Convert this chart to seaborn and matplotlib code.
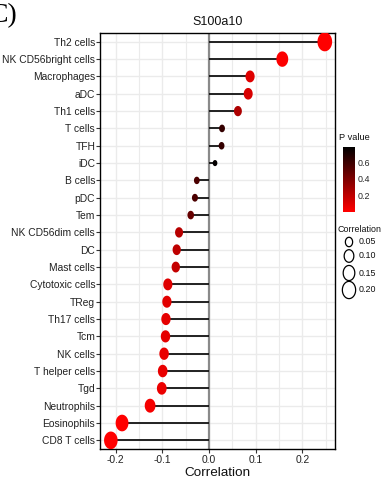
import numpy as np
import pandas as pd
import matplotlib
matplotlib.use("Agg")
import matplotlib.pyplot as plt
import seaborn as sns
from matplotlib.colors import LinearSegmentedColormap, Normalize
from matplotlib.colorbar import ColorbarBase
from matplotlib.path import Path
from matplotlib.ticker import MultipleLocator

# Immune cell types ordered from top to bottom
cells = ["Th2 cells", "NK CD56bright cells", "Macrophages", "aDC", "Th1 cells",
         "T cells", "TFH", "iDC", "B cells", "pDC", "Tem", "NK CD56dim cells",
         "DC", "Mast cells", "Cytotoxic cells", "TReg", "Th17 cells", "Tcm",
         "NK cells", "T helper cells", "Tgd", "Neutrophils", "Eosinophils",
         "CD8 T cells"]
correlation = [0.248, 0.157, 0.088, 0.084, 0.062, 0.028, 0.027, 0.013,
               -0.026, -0.030, -0.039, -0.064, -0.069, -0.071, -0.088, -0.090,
               -0.092, -0.093, -0.096, -0.099, -0.101, -0.126, -0.186, -0.210]
p_value = [0.0005, 0.01, 0.10, 0.12, 0.25, 0.62, 0.62, 0.77,
           0.55, 0.55, 0.47, 0.22, 0.20, 0.18, 0.10, 0.09,
           0.08, 0.08, 0.07, 0.07, 0.06, 0.03, 0.002, 0.0005]
size_breaks = [0.05, 0.10, 0.15, 0.20]
p_ticks = [0.2, 0.4, 0.6]

df = pd.DataFrame({"cell": cells, "cor": correlation, "p": p_value})
df["abs_cor"] = df["cor"].abs()

sns.set_theme(style="white")
plt.rcParams["font.family"] = ["Liberation Sans", "DejaVu Sans"]

cmap = LinearSegmentedColormap.from_list("pval", ["#ff0000", "#000000"])
p_norm = Normalize(0, 0.78)
size_range = (10, 190)
size_norm = (0, 0.25)

def area(v):
    return size_range[0] + (size_range[1] - size_range[0]) * (v - size_norm[0]) / (size_norm[1] - size_norm[0])

# slightly tall elliptical marker
t = np.linspace(0, 2 * np.pi, 64)
ellipse = Path(np.column_stack([np.cos(t) * 0.77, np.sin(t)]), closed=True)

fig = plt.figure(figsize=(3.91, 4.87), dpi=100)
ax = fig.add_axes([0.256, 0.078, 0.601, 0.854])

ax.axvline(0, color="#8a8a8a", lw=1.6, zorder=2)
sns.scatterplot(data=df, x="cor", y="cell", hue="p", palette=cmap, hue_norm=p_norm,
                size="abs_cor", sizes=size_range, size_norm=size_norm,
                marker=ellipse, linewidth=0, legend=False, ax=ax, zorder=4)
ax.hlines(df["cell"], 0, df["cor"], color="#111111", lw=1.3, zorder=3)

ax.set_xlim(-0.233, 0.27)
ax.set_ylim(len(cells) - 0.5, -0.5)
ax.xaxis.set_major_locator(MultipleLocator(0.1))
ax.xaxis.set_minor_locator(MultipleLocator(0.05))
ax.set_xticks([-0.2, -0.1, 0.0, 0.1, 0.2])
ax.set_xticklabels(["-0.2", "-0.1", "0.0", "0.1", "0.2"])
ax.grid(which="major", color="#ebebeb", lw=1.0, zorder=0)
ax.grid(which="minor", axis="x", color="#ebebeb", lw=0.8, zorder=0)
ax.set_axisbelow(True)
for sp in ax.spines.values():
    sp.set_color("black")
    sp.set_linewidth(1.0)
ax.tick_params(axis="both", which="major", length=3, width=0.8, color="#333333",
               labelsize=7.4, labelcolor="#222222", pad=1.5, left=True, bottom=True)
ax.tick_params(axis="y", labelsize=7.4, pad=0.5)
ax.tick_params(which="minor", length=0)
ax.set_xlabel("Correlation", fontsize=9.7, color="#111111", labelpad=1)
ax.set_ylabel("")
ax.set_title("S100a10", fontsize=9, color="#111111", pad=6)

# P value colour bar
fig.text(339 / 391, 1 - 138 / 487, "P value", fontsize=6.7, va="center", ha="left", color="#111111")
cax = fig.add_axes([343 / 391, 1 - 212 / 487, 12 / 391, 65 / 487])
cb = ColorbarBase(cax, cmap=cmap, norm=p_norm, orientation="vertical")
cb.outline.set_visible(False)
cb.set_ticks(p_ticks)
cb.set_ticklabels([f"{v:.1f}" for v in p_ticks])
cax.tick_params(length=2.5, width=0.6, color="white", labelsize=6.4, pad=2, direction="in")

# Correlation size legend
lax = fig.add_axes([335 / 391, 1 - 300 / 487, 56 / 391, 80 / 487])
lax.set_xlim(0, 56)
lax.set_ylim(300, 220)
lax.axis("off")
lax.text(3, 229, "Correlation", fontsize=6.4, va="center", ha="left", color="#111111")
for yy, v in zip([242, 256, 273, 290], size_breaks):
    lax.scatter([14], [yy], s=area(v), marker=ellipse, facecolors="none",
                edgecolors="black", linewidths=0.9)
    lax.text(24, yy, f"{v:.2f}", fontsize=6.4, va="center", ha="left", color="#111111")

fig.text(-10 / 391, 1 - 3 / 487, "C)", fontsize=20, family=["Liberation Serif", "DejaVu Serif"],
         va="top", ha="left", color="black")

fig.savefig("out.png", dpi=100)
